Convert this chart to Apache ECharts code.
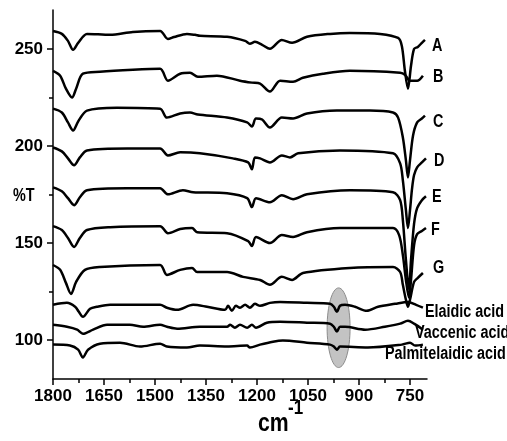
<!DOCTYPE html>
<html>
<head>
<meta charset="utf-8">
<script src="https://cdn.jsdelivr.net/npm/echarts@6/dist/echarts.min.js"></script>
<style>
html,body{margin:0;padding:0;background:#fff;}
#chart{width:507px;height:441px;}
</style>
</head>
<body>
<div id="chart"></div>
<script>
// ---- data (wavenumber cm-1, %T offset) ----
const seriesNames = ['A','B','C','D','E','F','G','Elaidic acid','Vaccenic acid','Palmitelaidic acid'];

const specA = [[1800,259.2],[1774,257.7],[1756,254.1],[1741,249.5],[1726,253.1],[1700,257.7],[1632,257.2],[1565,258.7],[1485,259.2],[1462,255.1],[1444,256.1],[1406,257.7],[1382,257.2],[1368,256.7],[1288,256.2],[1235,254.1],[1221,252.6],[1206,253.6],[1185,252.1],[1162,250],[1127,254.6],[1097,253.1],[1053,256.2],[985,257.7],[927,258.2],[838,257.7],[785,255.6],[774,251.5],[765,238.7],[756,229.5],[747,241.3],[738,250],[727,251],[715,253.1],[706,254.6]];
const specB = [[1800,238.7],[1779,236.2],[1762,229.5],[1744,224.9],[1732,229.5],[1712,237.2],[1662,238.2],[1565,239.2],[1485,239.7],[1462,233.6],[1426,237.2],[1397,237.7],[1374,235.6],[1318,236.2],[1250,233.6],[1215,232.6],[1191,232.1],[1162,228],[1132,233.6],[1094,233.1],[1065,235.1],[1006,237.2],[927,238.7],[779,237.7],[765,236.7],[750,233.6],[729,233.6],[712,236.2]];
const specC = [[1800,219.2],[1774,217.2],[1756,212.1],[1741,208],[1726,212.6],[1700,218.2],[1612,219.7],[1485,219.2],[1465,214.6],[1426,216.7],[1397,217.2],[1374,216.2],[1288,214.6],[1229,212.1],[1215,210],[1203,214.1],[1185,213.6],[1162,209.5],[1127,214.6],[1094,214.1],[1053,216.7],[965,218.2],[868,218.2],[800,217.2],[785,214.6],[771,204.4],[762,192.6],[756,183.8],[750,192.6],[741,205.4],[729,212.1],[715,214.1],[706,215.6]];
const specD = [[1800,199.2],[1774,197.2],[1756,193.6],[1738,190],[1721,194.1],[1700,197.7],[1582,198.7],[1485,198.7],[1462,195.1],[1426,196.7],[1368,196.2],[1271,193.6],[1226,191.5],[1215,188],[1206,194.1],[1191,193.6],[1162,191.5],[1127,195.1],[1103,194.1],[1079,196.2],[956,197.7],[800,196.2],[779,191],[771,182.3],[762,166.9],[756,157.7],[750,166.9],[744,178],[738,185],[729,189],[715,191.5],[703,193.6]];
const specE = [[1800,178.7],[1774,176.7],[1756,173.1],[1738,169.5],[1721,173.6],[1700,177.2],[1582,178.2],[1485,178.2],[1462,175.1],[1418,177.2],[1388,176.2],[1288,175.6],[1229,173.1],[1215,168.5],[1203,173.1],[1162,171],[1127,174.6],[1094,172.6],[1053,175.1],[927,177.2],[800,176.2],[779,172.1],[771,161.8],[762,141.3],[753,125.9],[747,141.3],[738,160],[729,168],[715,172.1],[703,174.1]];
const specF = [[1800,158.7],[1774,156.7],[1756,152.6],[1738,148],[1721,152.6],[1700,156.7],[1632,158.2],[1485,158.7],[1462,155.1],[1426,157.2],[1391,157.7],[1376,155.6],[1288,155.1],[1226,151],[1215,148.5],[1203,153.1],[1162,150],[1127,154.1],[1094,153.1],[1053,155.6],[956,157.7],[800,157.7],[782,154.1],[771,143.8],[762,131],[753,121.8],[747,131],[738,149],[729,154.6],[715,156.2],[703,157.7]];
const specG = [[1800,138.7],[1779,136.2],[1762,129.5],[1747,123.8],[1732,130],[1706,136.2],[1662,137.7],[1485,138.7],[1465,133.6],[1426,136.2],[1391,137.2],[1376,135.1],[1288,135.1],[1241,132.6],[1191,131],[1162,128.5],[1127,132.6],[1097,131],[1065,134.6],[927,137.2],[800,137.7],[779,135.1],[771,128.5],[762,120.8],[756,117.2],[750,120.8],[738,130],[727,132.1],[712,134.6]];
const specElaidic = [[1800,118.2],[1759,119.2],[1735,117.2],[1724,114.6],[1712,112],[1691,116.2],[1671,117.2],[1632,118.2],[1485,118.2],[1465,116.7],[1435,115.6],[1388,118.2],[1347,117.2],[1294,115.6],[1285,117.7],[1274,115.1],[1262,117.7],[1250,116.7],[1235,118.2],[1221,116.7],[1206,118.7],[1191,117.7],[1162,119.2],[1132,119.7],[1053,119.2],[985,118.7],[974,117.2],[965,114.6],[956,117.7],[941,118.2],[912,117.2],[877,115.1],[844,117.2],[794,118.7],[756,119.7],[732,118.2],[712,116.7]];
const specVaccenic = [[1800,107.9],[1759,106.9],[1729,105.4],[1712,103.3],[1682,105.4],[1641,107.9],[1574,107.9],[1535,106.9],[1485,107.9],[1465,106.9],[1435,105.9],[1368,106.9],[1288,106.9],[1279,107.9],[1265,106.4],[1250,107.9],[1229,106.4],[1215,107.9],[1203,106.4],[1171,109],[1132,109.5],[1053,109],[985,108.5],[974,106.9],[965,104.4],[956,106.9],[941,106.9],[882,105.4],[824,106.9],[779,108.5],[756,110],[738,108.5],[712,105.4]];
const specPalmitelaidic = [[1800,97.7],[1750,97.2],[1726,95.1],[1712,91.1],[1697,95.1],[1662,98.2],[1603,98.7],[1544,96.7],[1485,98.2],[1465,96.7],[1406,96.2],[1368,97.2],[1288,96.7],[1229,97.2],[1221,96.2],[1191,97.7],[1153,99.2],[1124,99.8],[1053,98.7],[985,97.7],[974,96.7],[965,95.1],[956,96.7],[874,96.2],[774,97.7],[750,98.7],[735,97.2],[712,97.7]];

const xMajorTicks = [1800,1650,1500,1350,1200,1050,900,750];
const xMinorTicks = [1725,1575,1425,1275,1125,975,825];
const yMajorTicks = [100,150,200,250];
const yMinorTicks = [125,175,225];
// highlighted region: [centre wavenumber, centre %T, half-width cm-1, half-height %T]
const highlightRegion = [[960,106.4,33.8,20.5]];

// ---- chart ----
const FONT = "'Liberation Sans',Arial,sans-serif";
const NARROW = 0.8; // emulate the condensed bold face of the original
const spectra = [specA,specB,specC,specD,specE,specF,specG,specElaidic,specVaccenic,specPalmitelaidic];
// pixel offsets of each name label from its trace end
const labelOffsets = [[7,6],[10,1],[8,6],[8,3],[6,1],[5,2],[10,-5],[2,4],[-8,3],[-38,9]];

const chart = echarts.init(document.getElementById('chart'));
const axisLineStyle = {color:'#000', width:1.5};

const lineSeries = spectra.map((d,i)=>({
  type:'line',
  name:seriesNames[i],
  data:d,
  showSymbol:false,
  smooth:0.3,
  z:3,
  lineStyle:{color:'#000', width:2.5}
}));

const endPoints = spectra.map(d => d[d.length-1]);

const labelSeries = {
  type:'custom',
  z:4,
  silent:true,
  clip:false,
  data:endPoints,
  renderItem:function(params, api){
    const i = params.dataIndex;
    const p = api.coord([api.value(0), api.value(1)]);
    return {
      type:'text',
      x:p[0] + labelOffsets[i][0],
      y:p[1] + labelOffsets[i][1],
      scaleX:NARROW,
      style:{text:seriesNames[i], fill:'#000', font:'bold 18px '+FONT, align:'left', verticalAlign:'middle'}
    };
  }
};

chart.setOption({
  animation:false,
  backgroundColor:'#fff',
  grid:{left:53,right:80,top:10,bottom:62,containLabel:false,outerBoundsMode:'none'},
  xAxis:[{
    type:'value', min:700, max:1800, inverse:true, position:'bottom',
    axisLine:{show:true,onZero:false,lineStyle:axisLineStyle},
    axisTick:{show:true,length:6,lineStyle:axisLineStyle,customValues:xMajorTicks},
    axisLabel:{customValues:xMajorTicks,formatter:v=>String(v),showMinLabel:true,hideOverlap:false,
      color:'#000',fontSize:17,fontWeight:'bold',fontFamily:FONT,margin:9},
    splitLine:{show:false}
  },{
    type:'value', min:700, max:1800, inverse:true, position:'bottom', offset:0,
    axisLine:{show:false},
    axisTick:{show:true,length:4,lineStyle:axisLineStyle,customValues:xMinorTicks},
    axisLabel:{show:false},
    splitLine:{show:false}
  }],
  yAxis:[{
    type:'value', min:80, max:270, position:'left',
    axisLine:{show:true,onZero:false,lineStyle:axisLineStyle},
    axisTick:{show:true,length:6,lineStyle:axisLineStyle,customValues:yMajorTicks},
    axisLabel:{customValues:yMajorTicks,formatter:v=>String(v),
      color:'#000',fontSize:17,fontWeight:'bold',fontFamily:FONT,margin:10},
    splitLine:{show:false}
  },{
    type:'value', min:80, max:270, position:'left', offset:0,
    axisLine:{show:false},
    axisTick:{show:true,length:4,lineStyle:axisLineStyle,customValues:yMinorTicks},
    axisLabel:{show:false},
    splitLine:{show:false}
  }],
  graphic:[
    {type:'text', x:13, y:196, scaleX:NARROW, style:{text:'%T', fill:'#000', font:'bold 18px '+FONT, verticalAlign:'middle'}},
    {type:'text', x:258, y:424, scaleX:0.85, style:{text:'cm', fill:'#000', font:'bold 25px '+FONT, verticalAlign:'middle'}},
    {type:'text', x:288, y:408, scaleX:0.85, style:{text:'-1', fill:'#000', font:'bold 20px '+FONT, verticalAlign:'middle'}}
  ],
  series:[{
    type:'custom',
    z:1,
    silent:true,
    data:highlightRegion,
    renderItem:function(params, api){
      const c = api.coord([api.value(0), api.value(1)]);
      const s = api.size([api.value(2), api.value(3)]);
      return {type:'ellipse', shape:{cx:c[0], cy:c[1], rx:s[0], ry:s[1]},
        style:{fill:'#c3c3c3', stroke:'#8c8c8c', lineWidth:1}};
    }
  }].concat(lineSeries, [labelSeries])
});
</script>
</body>
</html>
